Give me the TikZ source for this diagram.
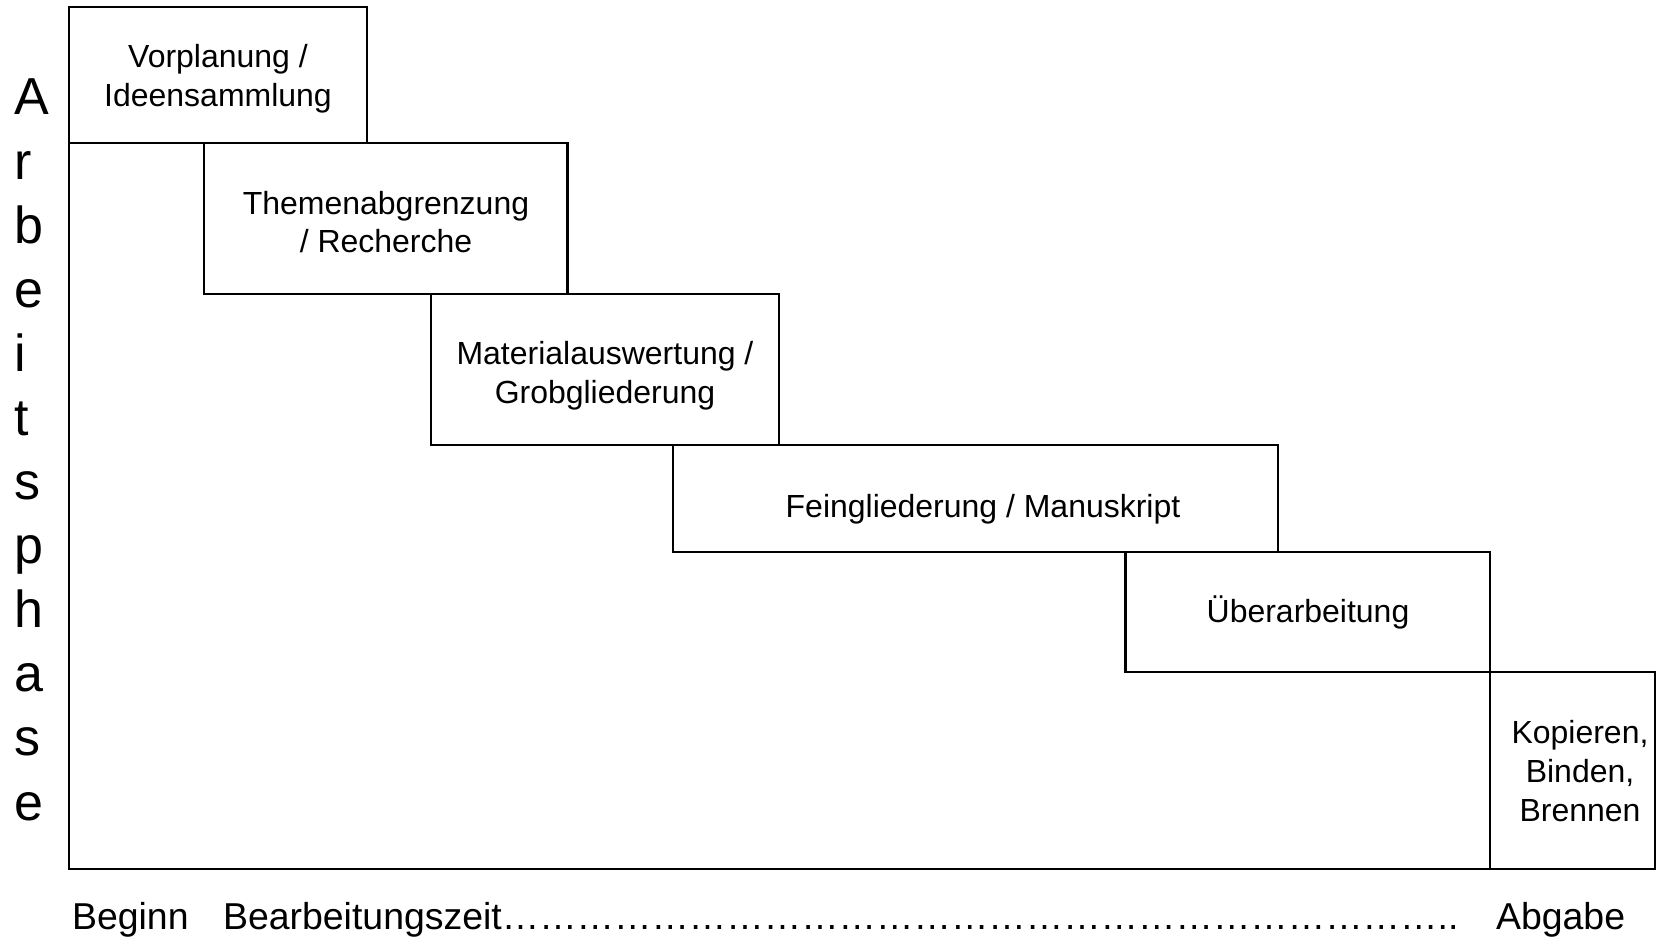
\documentclass[tikz,border=0pt]{standalone}
\usepackage{fontspec}
\setmainfont{Liberation Sans}

\newcommand{\phasefont}{\fontsize{9.1}{11}\selectfont}
\newcommand{\zeitfont}{\fontsize{10.65}{12.5}\selectfont}
\newcommand{\achsefont}{\fontsize{14.8}{18}\selectfont}

\tikzset{
	phase/.style={align=center, inner sep=0pt, font=\phasefont},
	zeit/.style={anchor=base west, inner sep=0pt, font=\zeitfont},
	achse/.style={anchor=base west, inner sep=0pt, font=\achsefont}
}

\begin{document}
\begin{tikzpicture}[line width=0.6pt]
\useasboundingbox (0,0) rectangle (16.57,9.39);

\draw (0.687,9.316) -- (0.687,0.70) -- (16.55,0.70);

\draw (0.687,9.316) rectangle (3.667,7.96);
\draw (2.043,7.96) rectangle (5.675,6.452);
\draw (4.312,6.452) rectangle (7.789,4.941);
\draw (6.732,4.941) rectangle (12.777,3.873);
\draw (11.255,3.873) rectangle (14.90,2.67);
\draw (14.90,2.67) rectangle (16.55,0.70);

\node[phase] (p1) at (2.18,8.60) {Vorplanung /\\Ideensammlung};
\node[phase] (p2) at (3.86,7.17) {Themenabgrenzung\\/ Recherche};
\node[phase] (p3) at (6.05,5.63) {Materialauswertung /\\Grobgliederung};
\node[phase] (p4) at (9.83,4.30) {Feingliederung / Manuskript};
\node[phase] (p5) at (13.08,3.27) {Überarbeitung};
\node[phase] (p6) at (15.80,1.68) {Kopieren,\\Binden,\\Brennen};

% Achse links
\foreach \c [count=\i from 0] in {A,r,b,e,i,t,s,p,h,a,s,e} {
	\node[achse] (ax\i) at (0.133,{8.24-0.641*\i}) {\c};
}

\node[zeit] (beginn) at (0.71,0.09) {Beginn};
\node[zeit] (bearb) at (2.22,0.09) {Bearbeitungszeit\foreach \k in {1,...,25}{…}..};
\node[zeit] (abgabe) at (14.95,0.09) {Abgabe};
\end{tikzpicture}
\end{document}
